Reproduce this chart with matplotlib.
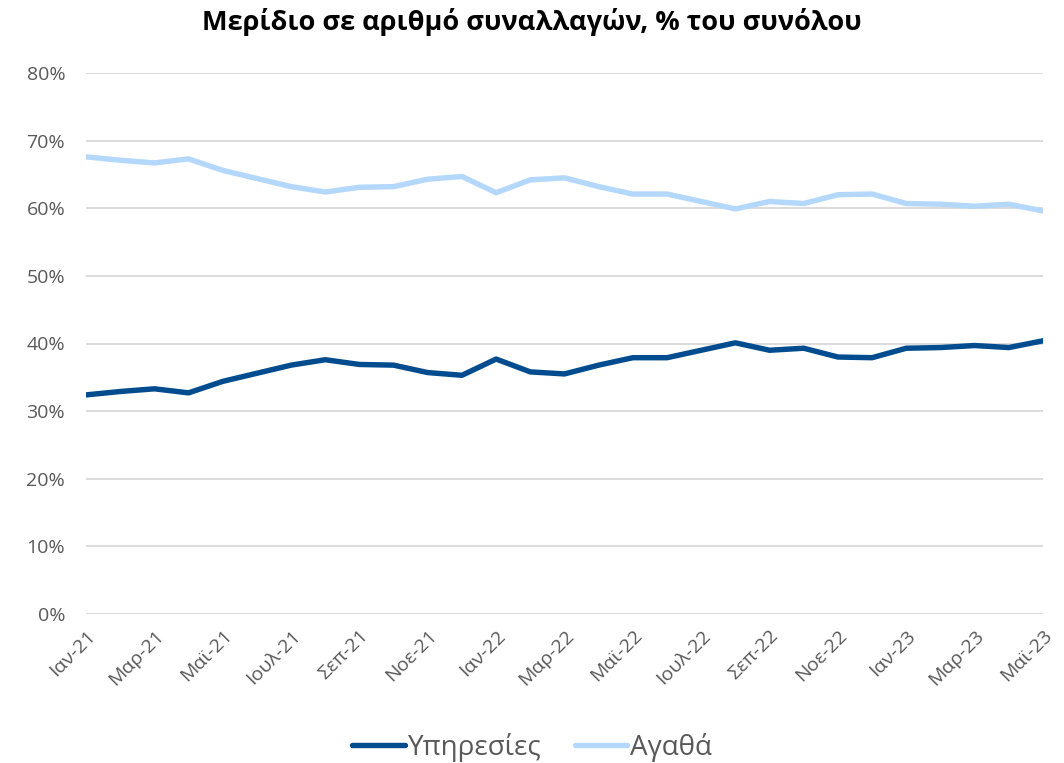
import numpy as np
import matplotlib
matplotlib.use('Agg')
import matplotlib.pyplot as plt

plt.rcParams['font.family'] = ['Open Sans', 'DejaVu Sans']

months = ['Ιαν', 'Φεβ', 'Μαρ', 'Απρ', 'Μαϊ', 'Ιουν', 'Ιουλ', 'Αυγ', 'Σεπ', 'Οκτ', 'Νοε', 'Δεκ']
dates = [m + '-' + y for y in ['21', '22', '23'] for m in months][:29]

# share of number of transactions, %
services = [32.4, 32.9, 33.3, 32.7, 34.4, 35.6, 36.8, 37.6, 36.9, 36.8, 35.7, 35.3,
            37.7, 35.8, 35.5, 36.8, 37.9, 37.9, 39.0, 40.1, 39.0, 39.3, 38.0, 37.9,
            39.3, 39.4, 39.7, 39.4, 40.4]
goods = [67.6, 67.1, 66.7, 67.3, 65.6, 64.4, 63.2, 62.4, 63.1, 63.2, 64.3, 64.7,
         62.3, 64.2, 64.5, 63.2, 62.1, 62.1, 61.0, 59.9, 61.0, 60.7, 62.0, 62.1,
         60.7, 60.6, 60.3, 60.6, 59.6]

x = np.arange(len(dates))

fig = plt.figure(figsize=(10.64, 7.63), dpi=100)
ax = fig.add_axes([86/1064, 1 - 614/763, (1043-86)/1064, (614-73)/763])

ax.plot(x, services, color='#004C8E', lw=3.9, label='Υπηρεσίες', solid_capstyle='round')
ax.plot(x, goods, color='#B4D8FB', lw=3.9, label='Αγαθά', solid_capstyle='round')

ax.set_xlim(0, len(dates) - 1)
ax.set_ylim(0, 80)
ax.set_yticks(np.arange(0, 81, 10))
ax.set_yticklabels([f'{v}%' for v in range(0, 81, 10)])
ax.set_xticks(x[::2])
ax.set_xticklabels(dates[::2], rotation=45, ha='right', rotation_mode='anchor')

ax.grid(axis='y', color='#D9D9D9', lw=1.3)
ax.set_axisbelow(True)
for s in ax.spines.values():
    s.set_visible(False)
ax.tick_params(axis='both', length=0, labelsize=14, colors='#595959')
ax.tick_params(axis='y', pad=15)
ax.tick_params(axis='x', pad=9)

fig.text(0.5, 1 - 22/763, 'Μερίδιο σε αριθμό συναλλαγών, % του συνόλου',
         ha='center', va='center', fontsize=19.5, fontweight='bold', color='black')

fig.legend(loc='center', bbox_to_anchor=(0.5, 1 - 747/763), ncol=2, frameon=False,
           fontsize=20, handlelength=1.9, columnspacing=1.2, handletextpad=0.1,
           labelcolor='#595959')

fig.savefig('out.png', dpi=100)
